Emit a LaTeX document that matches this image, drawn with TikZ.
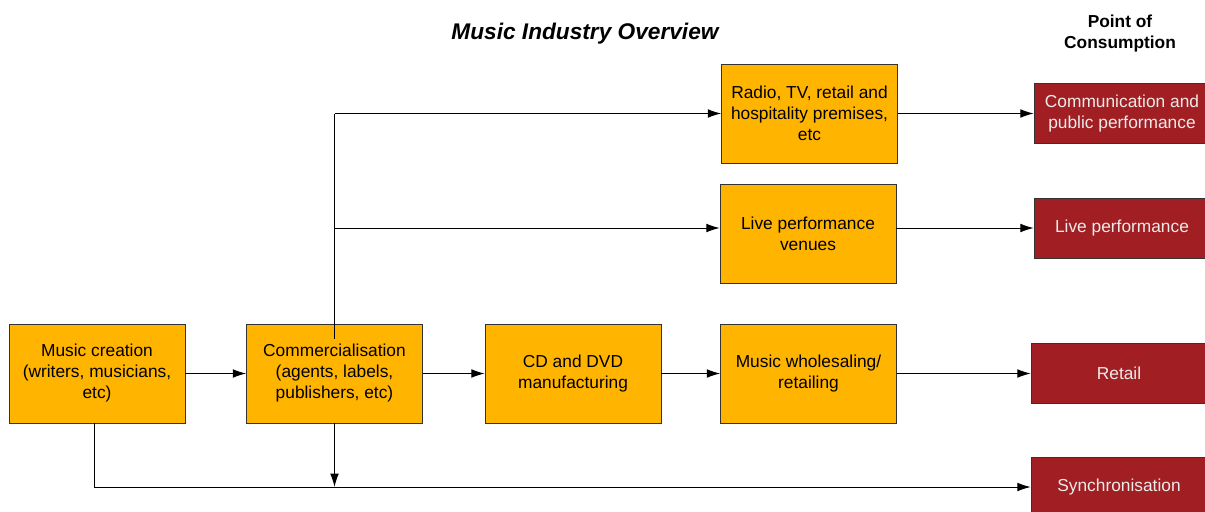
\documentclass[tikz,border=0pt]{standalone}
\usepackage{fontspec}
\setmainfont{Liberation Sans}
\usetikzlibrary{arrows.meta}
\definecolor{kasten}{HTML}{FFB400}
\definecolor{konsum}{HTML}{A11F22}
\def\schrift{\fontsize{13}{15.75}\selectfont}
\tikzset{
	stufe/.style={draw=black!80, fill=kasten, minimum width=132pt,
		minimum height=74pt, align=center, font=\schrift, inner sep=2pt},
	ziel/.style={draw=black!80, fill=konsum, text=white!92!black,
		minimum width=132pt, minimum height=45pt, align=center,
		font=\schrift, inner sep=2pt},
	pfeil/.style={->, line width=0.75pt},
	linie/.style={line width=0.75pt}
}

\begin{document}
\begin{tikzpicture}[x=0.75pt,y=-0.75pt,>={Latex[length=10pt,width=6.5pt]}]
\useasboundingbox (0,0) rectangle (1205,511);
% ueberschriften
\node[font=\fontsize{17}{20}\selectfont\bfseries\itshape] (titel) at (585,34)
	{Music Industry Overview};
\node[font=\schrift\bfseries, align=center] (konsumpunkt) at (1120,34)
	{Point of\\Consumption};
% kette
\node[stufe] (creation) at (97,373.5) {Music creation\\(writers, musicians,\\etc)};
\node[stufe] (comm) at (334.5,373.5) {Commercialisation\\(agents, labels,\\publishers, etc)};
\node[stufe] (cd) at (573,373.5) {CD and DVD\\manufacturing};
\node[stufe] (handel) at (808.5,373.5) {Music wholesaling/\\retailing};
\node[stufe] (radio) at (809.5,113.5) {Radio, TV, retail and\\hospitality premises,\\etc};
\node[stufe] (venues) at (808,233.5) {Live performance\\venues};
% point of consumption
\node[ziel] (kommunikation) at (1122,113.5) {Communication and\\public performance};
\node[ziel] (live) at (1122,228) {Live performance};
\node[ziel] (retail) at (1119,373.5) {Retail};
\node[ziel] (sync) at (1119,487) {Synchronisation};
% pfeile
\foreach \a/\b in {creation/comm, comm/cd, cd/handel, handel/retail}{
	\draw[pfeil] (\a.east) -- (\b.west);
}
\draw[pfeil] (radio.east |- kommunikation.west) -- (kommunikation.west);
\draw[pfeil] (venues.east |- live.west) -- (live.west);
\draw[linie] ([yshift=-11pt]comm.north) -- (comm.north |- kommunikation.west);
\draw[pfeil] (comm.north |- kommunikation.west) -- (radio.west |- kommunikation.west);
\draw[pfeil] (comm.north |- live.west) -- (venues.west |- live.west);
\draw[pfeil] (comm.south) -- (comm.south |- sync.west);
\draw[pfeil] ([xshift=-2pt]creation.south) -- ([xshift=-2pt]creation.south |- sync.west)
	-- (sync.west);
\end{tikzpicture}
\end{document}
